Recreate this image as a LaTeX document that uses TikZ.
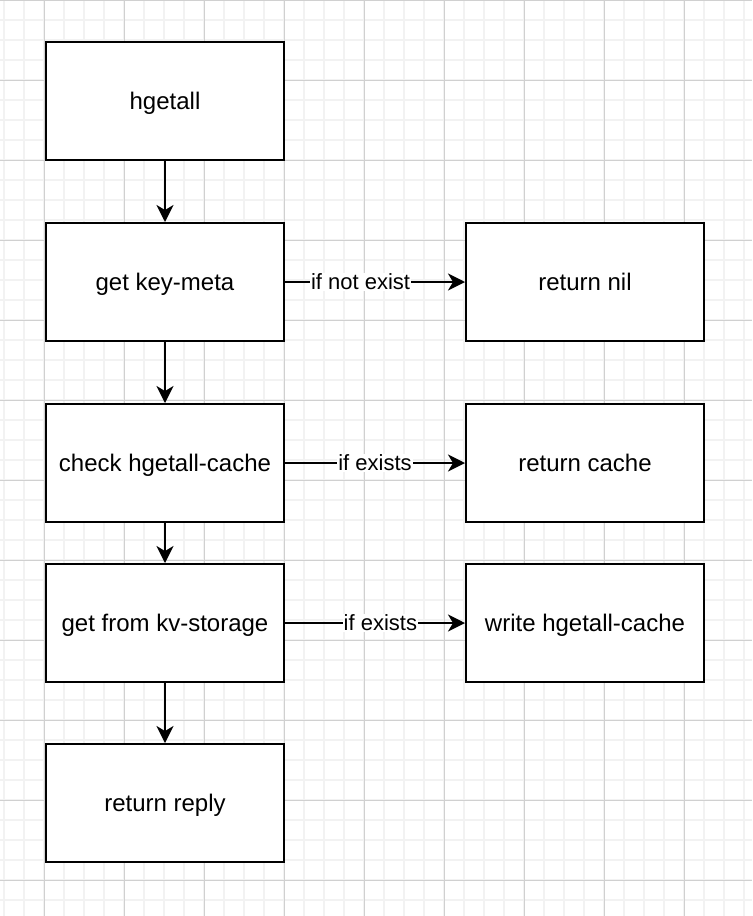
\documentclass[tikz,border=0pt]{standalone}
\usepackage{fontspec}
\setmainfont{Liberation Sans}
\usetikzlibrary{arrows.meta}
\definecolor{minorgray}{HTML}{F2F2F2}
\definecolor{majorgray}{HTML}{D0D0D0}
\tikzset{
  box/.style={draw=black, fill=white, line width=1pt, minimum width=119pt,
    minimum height=59pt, inner sep=2pt, text height=10.9pt, text depth=2.5pt,
    font=\fontsize{12}{14}\selectfont},
  flow/.style={line width=1pt, -{Stealth[length=8.5pt,width=8.5pt,inset=2.5pt]}},
  cond/.style={fill=white, inner sep=0.5pt, font=\fontsize{11}{13}\selectfont},
  minorgrid/.style={draw=minorgray, line width=0.9pt},
  majorgrid/.style={draw=majorgray, line width=0.5pt}
}
\begin{document}
\begin{tikzpicture}[x=0.5pt,y=-0.5pt]
\useasboundingbox (0,0) rectangle (752,916);
\fill[white] (0,0) rectangle (752,916);
% grid
\foreach \gx in {4,24,...,744} \draw[minorgrid] (\gx,0) -- (\gx,916);
\foreach \gy in {0,20,...,900} \draw[minorgrid] (0,\gy) -- (752,\gy);
\foreach \gx in {44,124,...,684} \draw[majorgrid] (\gx,0) -- (\gx,916);
\foreach \gy in {0,80,...,880} \draw[majorgrid] (0,\gy) -- (752,\gy);

% main column
\node[box] (hgetall) at (165,101) {hgetall};
\node[box] (keymeta) at (165,282) {get key-meta};
\node[box] (checkcache) at (165,463) {check hgetall-cache};
\node[box] (kvstorage) at (165,623) {get from kv-storage};
\node[box] (reply) at (165,803) {return reply};

% right column
\node[box] (retnil) at (585,282) {return nil};
\node[box] (retcache) at (585,463) {return cache};
\node[box] (writecache) at (585,623) {write hgetall-cache};

\draw[flow] (hgetall) -- (keymeta);
\draw[flow] (keymeta) -- (checkcache);
\draw[flow] (checkcache) -- (kvstorage);
\draw[flow] (kvstorage) -- (reply);

\draw[flow] (keymeta) -- node[cond, pos=0.42] {if not exist} (retnil);
\draw[flow] (checkcache) -- node[cond, pos=0.5] {if exists} (retcache);
\draw[flow] (kvstorage) -- node[cond, pos=0.53] {if exists} (writecache);

\end{tikzpicture}
\end{document}
